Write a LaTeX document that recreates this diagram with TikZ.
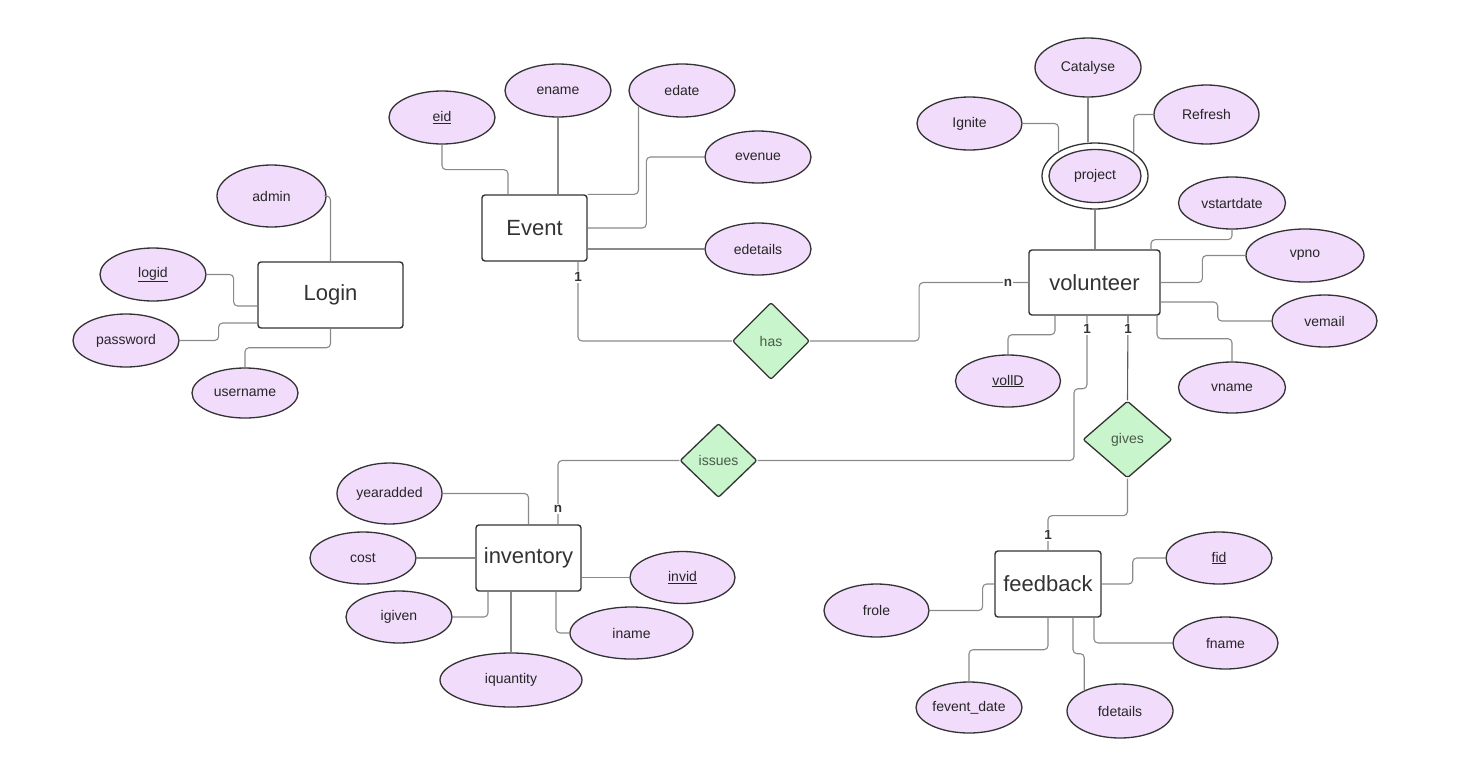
\documentclass[tikz,border=0pt]{standalone}
\usepackage{fontspec}
\setmainfont{Liberation Sans}
\usetikzlibrary{shapes.geometric}
\definecolor{attrfill}{HTML}{F2DCFC}
\definecolor{relfill}{HTML}{C8F5CB}
\definecolor{edgegray}{HTML}{8A8A8A}
\definecolor{ink}{HTML}{333333}
\definecolor{reltext}{HTML}{4A5A4A}

\tikzset{
  entity/.style={draw=ink, line width=1.4pt, rounded corners=3pt, fill=white,
    inner sep=0pt, font=\fontsize{22}{24}\selectfont, text=ink},
  attr/.style={ellipse, draw=ink, line width=1.3pt, fill=attrfill, inner sep=0pt,
    font=\fontsize{14}{16}\selectfont, text=black!85},
  rel/.style={diamond, draw=ink, line width=1.3pt, fill=relfill, inner sep=0pt,
    rounded corners=2pt, font=\fontsize{14}{16}\selectfont, text=reltext},
  conn/.style={draw=edgegray, line width=1.1pt, rounded corners=4pt},
  card/.style={fill=white, inner sep=1pt, font=\bfseries\fontsize{13.5}{15}\selectfont, text=ink},
}

\begin{document}
\begin{tikzpicture}[x=1pt, y=-1pt]
\useasboundingbox[fill=white] (0,0) rectangle (1465,777);

% ---------- entities ----------
\node[entity, minimum width=145pt, minimum height=66pt] (login)     at (330.5,295)  {Login};
\node[entity, minimum width=105pt, minimum height=66pt] (event)     at (534.5,228)  {Event};
\node[entity, minimum width=131pt, minimum height=65pt] (volunteer) at (1094.5,282.5) {volunteer};
\node[entity, minimum width=105pt, minimum height=66pt] (inventory) at (528.5,558)  {inventory};
\node[entity, minimum width=106pt, minimum height=66pt] (feedback)  at (1048,584)   {feedback};

% ---------- relationships ----------
\node[rel, minimum width=77pt, minimum height=77pt] (has)    at (771,341)      {has};
\node[rel, minimum width=77pt, minimum height=74pt] (issues) at (718.5,460.5)  {issues};
\node[rel, minimum width=89pt, minimum height=77pt] (gives)  at (1127.5,439.5) {gives};

% ---------- Login attributes ----------
\node[attr, minimum width=109pt, minimum height=62pt] (admin)    at (271.5,196) {admin};
\node[attr, minimum width=106pt, minimum height=53pt] (logid)    at (153,274.5) {\underline{logid}};
\node[attr, minimum width=106pt, minimum height=53pt] (password) at (126,340.5) {password};
\node[attr, minimum width=106pt, minimum height=50pt] (username) at (245,393)   {username};

% ---------- Event attributes ----------
\node[attr, minimum width=106pt, minimum height=53pt] (eid)      at (442,117.5) {\underline{eid}};
\node[attr, minimum width=106pt, minimum height=53pt] (ename)    at (558,90.5)  {ename};
\node[attr, minimum width=106pt, minimum height=53pt] (edate)    at (682,90.5)  {edate};
\node[attr, minimum width=106pt, minimum height=52pt] (evenue)   at (758,157)   {evenue};
\node[attr, minimum width=106pt, minimum height=52pt] (edetails) at (758,249)   {edetails};

% ---------- volunteer attributes ----------
\node[attr, minimum width=106pt, minimum height=59pt] (catalyse) at (1088,67.5)  {Catalyse};
\node[attr, minimum width=105pt, minimum height=53pt] (ignite)   at (969.5,123.5) {Ignite};
\node[attr, minimum width=105pt, minimum height=59pt] (refresh)  at (1206.5,114.5) {Refresh};
\node[ellipse, draw=ink, line width=1.3pt, fill=white, minimum width=106pt, minimum height=66pt] (project) at (1095,176) {};
\node[attr, minimum width=92pt, minimum height=53pt] (projectin) at (1095,176) {project};
\node[attr, minimum width=107pt, minimum height=52pt] (vstartdate) at (1232,203)   {vstartdate};
\node[attr, minimum width=118pt, minimum height=53pt] (vpno)       at (1305,255.5) {vpno};
\node[attr, minimum width=105pt, minimum height=52pt] (vemail)     at (1324.5,321) {vemail};
\node[attr, minimum width=107pt, minimum height=51pt] (vname)      at (1232,387.5) {vname};
\node[attr, minimum width=105pt, minimum height=52pt] (vollid)     at (1008,381)   {\underline{vollD}};

% ---------- inventory attributes ----------
\node[attr, minimum width=105pt, minimum height=61pt] (yearadded) at (389.5,493.5) {yearadded};
\node[attr, minimum width=106pt, minimum height=52pt] (cost)      at (363,558)     {cost};
\node[attr, minimum width=106pt, minimum height=52pt] (igiven)    at (399,617)     {igiven};
\node[attr, minimum width=142pt, minimum height=54pt] (iquantity) at (511,680)     {iquantity};
\node[attr, minimum width=123pt, minimum height=52pt] (iname)     at (631.5,633)   {iname};
\node[attr, minimum width=105pt, minimum height=52pt] (invid)     at (682.5,577.5) {\underline{invid}};

% ---------- feedback attributes ----------
\node[attr, minimum width=106pt, minimum height=52pt] (fid)        at (1219,558)   {\underline{fid}};
\node[attr, minimum width=105pt, minimum height=52pt] (fname)      at (1225.5,643) {fname};
\node[attr, minimum width=105pt, minimum height=53pt] (frole)      at (876.5,610.5) {frole};
\node[attr, minimum width=106pt, minimum height=51pt] (feventdate) at (969,707.5)  {fevent\_date};
\node[attr, minimum width=106pt, minimum height=54pt] (fdetails)   at (1120,711)   {fdetails};

% ---------- Login links ----------
\draw[conn] (admin.east) -| (login.north);
\draw[conn] (logid.east) -- ++(27,0) |- ([yshift=-11pt]login.west);
\draw[conn] (password.east) -- ++(39,0) |- ([yshift=-28pt]login.west);
\draw[conn] (login.south) -- ++(0,19) -| (username.north);

% ---------- Event links ----------
\draw[conn] (eid.south) -- ++(0,25) -| ([xshift=-26.5pt]event.north);
\draw[conn] (ename.south) -- ([xshift=23.5pt]event.north);
\draw[conn] (edate.200) |- (event.north east);
\draw[conn] (evenue.west) -- ++(-58,0) |- (event.east);
\draw[conn] ([yshift=-21pt]event.east) -- (edetails.west);

% ---------- volunteer links ----------
\draw[conn] (catalyse.south) -- ([xshift=-7pt]project.north);
\draw[conn] (ignite.east) -| (project.146);
\draw[conn] (refresh.west) -| (project.31);
\draw[conn] (project.south) -- ([xshift=0.5pt]volunteer.north);
\draw[conn] (vstartdate.south) -- ++(0,10) -| ([xshift=56.5pt]volunteer.north);
\draw[conn] (vpno.west) -- ++(-43,0) |- (volunteer.east);
\draw[conn] ([yshift=-19.5pt]volunteer.east) -- ++(57,0) |- (vemail.west);
\draw[conn] ([xshift=62.5pt]volunteer.south) -- ++(0,23) -| (vname.north);
\draw[conn] ([xshift=-39.5pt]volunteer.south) -- ++(0,19) -| (vollid.north);

% ---------- inventory links ----------
\draw[conn] (yearadded.east) -| (inventory.north);
\draw[conn] (cost.east) -- (inventory.west);
\draw[conn] (igiven.east) -| ([xshift=-40.5pt]inventory.south);
\draw[conn] ([xshift=-17.5pt]inventory.south) -- (iquantity.north);
\draw[conn] ([xshift=27.5pt]inventory.south) |- (iname.west);
\draw[conn] ([yshift=-19.5pt]inventory.east) -- (invid.west);

% ---------- feedback links ----------
\draw[conn] (feedback.east) -- ++(31,0) |- (fid.west);
\draw[conn] (frole.east) -- ++(53,0) |- (feedback.west);
\draw[conn] ([xshift=46pt]feedback.south) |- (fname.west);
\draw[conn] (feedback.south) -- ++(0,32) -| (feventdate.north);
\draw[conn] ([xshift=25pt]feedback.south) -- ++(0,36) -| (fdetails.150);

% ---------- relationship links ----------
\draw[conn] ([xshift=43.5pt]event.south) |- (has.west);
\draw[conn] (has.east) -- ++(109,0) |- (volunteer.west);
\draw[conn] ([xshift=-7.5pt]volunteer.south) -- ++(0,73) -- ++(-13,0) |- (issues.east);
\draw[conn] (issues.west) -| ([xshift=29.5pt]inventory.north);
\draw[conn, draw=ink!80] ([xshift=33.5pt]volunteer.south) -- (gives.north);
\draw[conn] (gives.south) -- ++(0,37) -| (feedback.north);

% ---------- cardinalities ----------
\node[card] (cEvent)  at (578,277)  {1};
\node[card] (cVolHas) at (1008,283) {n};
\node[card] (cVolIss) at (1087,329) {1};
\node[card] (cVolGiv) at (1128,329) {1};
\node[card] (cInv)    at (558,509)  {n};
\node[card] (cFeed)   at (1048,535) {1};

\end{tikzpicture}
\end{document}
